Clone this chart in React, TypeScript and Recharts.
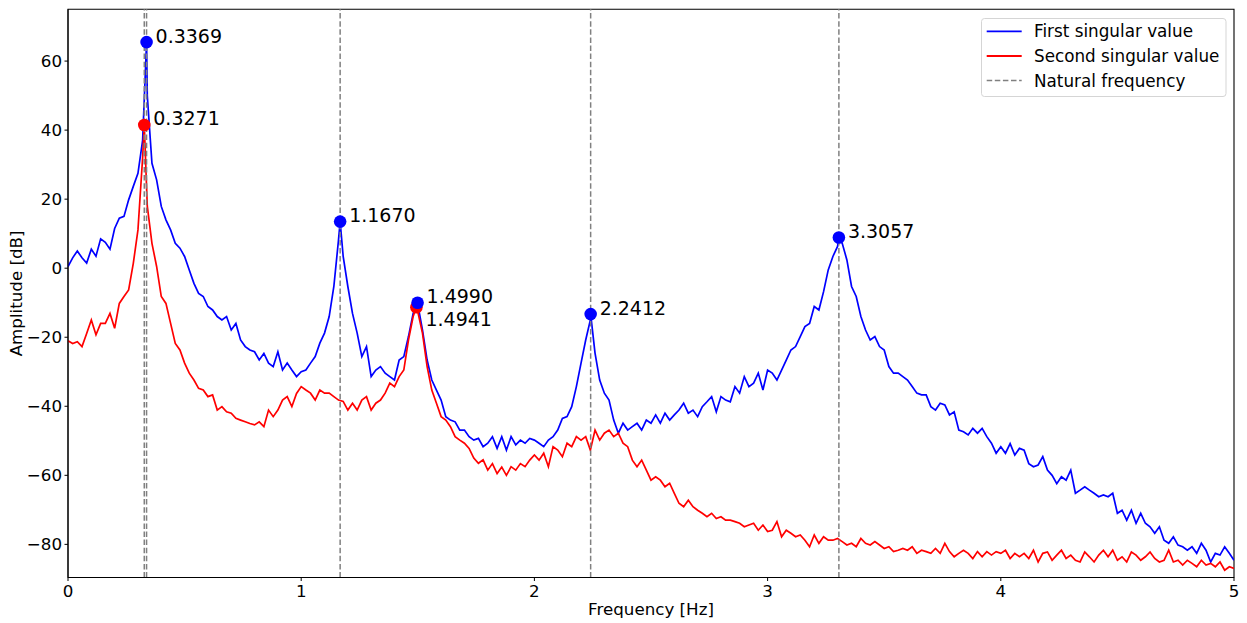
import {
  ComposedChart,
  Legend,
  Line,
  ReferenceArea,
  ReferenceLine,
  Scatter,
  XAxis,
  YAxis,
} from "recharts";

// amplitude of the first singular value [dB], sampled every 0.02 Hz from 0 to 5 Hz
const FIRST_SV = [
  0.5, 3.0, 5.0, 3.0, 1.5, 5.5, 3.5, 8.5, 7.5, 5.5, // 0.00-0.18
  11.5, 14.5, 15, 19.8, 23.7, 27.5, 37, 50, 30.4, 25.6, // 0.20-0.38
  17.9, 14, 11.1, 7.2, 5.8, 3.4, -0.5, -4.4, -7.3, -8.2, // 0.40-0.58
  -11.1, -12.1, -14.0, -15, -14, -17.9, -16, -20.8, -22.7, -23.7, // 0.60-0.78
  -24.2, -26.6, -24.7, -27.5, -28.5, -24.2, -29.5, -27.5, -29.5, -31.4, // 0.80-0.98
  -30, -29.5, -27.5, -25.6, -21.7, -18.8, -14, -5.3, 8.2, 3.4, // 1.00-1.18
  -5.3, -13.1, -18.8, -25.6, -22.7, -31.4, -29.5, -28.5, -30.4, -31.4, // 1.20-1.38
  -32.4, -26.6, -25.6, -19.8, -13.1, -10.5, -17.9, -26.6, -32.4, -35.3, // 1.40-1.58
  -38.2, -43, -44, -44.5, -46.9, -46.9, -48.8, -49.8, -49.3, -51.7, // 1.60-1.78
  -50.7, -48.8, -52.2, -48.8, -52.7, -48.8, -51.2, -49.8, -50.7, -49.3, // 1.80-1.98
  -49.8, -50.7, -51.7, -49.8, -48.8, -46.9, -43.5, -43, -40.1, -34.3, // 2.00-2.18
  -27.5, -20.8, -15, -24.6, -32.4, -36.2, -38.2, -44, -47.8, -44.9, // 2.20-2.38
  -46.9, -45.9, -44.9, -46.9, -44, -44.9, -42.5, -44.9, -42, -44, // 2.40-2.58
  -42.5, -41.1, -39.1, -42, -41.1, -43, -40.1, -38.7, -37.2, -41.6, // 2.60-2.78
  -37.2, -38.2, -38.7, -34.3, -36.2, -31.4, -34.3, -33.3, -30.4, -35.3, // 2.80-2.98
  -29.5, -30.4, -32.4, -29.5, -26.6, -23.7, -22.7, -19.8, -16.9, -16, // 3.00-3.18
  -11.1, -12.1, -6.8, -0.5, 3.4, 6.3, 7.2, 2.4, -5.3, -8.2, // 3.20-3.38
  -14, -17.9, -20.8, -19.8, -22.7, -23.7, -28.5, -30.4, -30.4, -31.4, // 3.40-3.58
  -32.4, -34.3, -36.2, -36.7, -36.7, -40.1, -41.1, -39.1, -39.6, -42.5, // 3.60-3.78
  -41.6, -46.9, -47.4, -48.3, -46.4, -47.8, -46.4, -48.8, -50.7, -53.6, // 3.80-3.98
  -51.7, -53.6, -50.8, -54.1, -52.2, -52.7, -56.6, -57.5, -57, -54.6, // 4.00-4.18
  -58.5, -60, -62.4, -60.4, -61.4, -58.5, -65.2, -64.3, -63.3, -64.3, // 4.20-4.38
  -65.2, -66.2, -65.7, -66.2, -65.2, -71, -70.1, -73, -70.1, -73.9, // 4.40-4.58
  -71, -73.9, -74.9, -76.8, -74.9, -78.8, -79.7, -77.8, -80.2, -80.7, // 4.60-4.78
  -81.7, -80.7, -82.6, -79.7, -81.7, -85.1, -82.6, -83.1, -80.7, -82.6, // 4.80-4.98
  -84.6, // 5.00
];

// amplitude of the second singular value [dB], same frequency grid
const SECOND_SV = [
  -21, -21.8, -21.3, -22.7, -18.9, -15, -19.3, -16, -16, -13.1, // 0.00-0.18
  -17.4, -10.2, -8.2, -6.3, 1.4, 11.1, 32, 18, 7.2, 0.5, // 0.20-0.38
  -8.2, -10.2, -16, -21.8, -23.7, -27.5, -30.4, -32.4, -34.8, -35.3, // 0.40-0.58
  -37.2, -36.7, -41.1, -40.1, -41.6, -42.0, -43.5, -44.0, -44.5, -45, // 0.60-0.78
  -45.4, -44.5, -45.9, -41.1, -43, -41.1, -38.2, -37.2, -40.1, -36.3, // 0.80-0.98
  -34.3, -35.3, -36.2, -38.2, -35.3, -36.2, -36.2, -37.2, -38.2, -38.6, // 1.00-1.18
  -41.1, -39.1, -41.1, -38.2, -37.2, -41.1, -39.1, -38.2, -36.2, -33.3, // 1.20-1.38
  -34.3, -31.4, -29.5, -20.8, -14, -12.6, -18.8, -28.5, -35.3, -39.1, // 1.40-1.58
  -43, -44, -45.9, -48.8, -49.8, -50.7, -52.2, -55, -56.5, -55.5, // 1.60-1.78
  -58.5, -56.6, -59.5, -57.6, -60, -57.5, -58.5, -56.6, -57.5, -55.6, // 1.80-1.98
  -54.1, -55.6, -53.6, -57.5, -51.7, -52.7, -54.6, -50.7, -51.7, -48.8, // 2.00-2.18
  -49.8, -48.8, -52.7, -46.9, -49.8, -47.8, -46.9, -48.8, -47.8, -50.7, // 2.20-2.38
  -51.7, -55.6, -57.5, -55.6, -58.5, -61.4, -60.4, -61.4, -63.3, -62.3, // 2.40-2.58
  -65.2, -68.1, -69.1, -67.2, -69.1, -70.1, -71, -72, -71, -72.5, // 2.60-2.78
  -72, -73, -73, -73.4, -73.9, -74.9, -74.4, -73.9, -75.9, -74.4, // 2.80-2.98
  -76.3, -75.9, -73.4, -77.8, -75.9, -76.8, -77.8, -77.3, -78.8, -80.7, // 3.00-3.18
  -77.3, -79.7, -77.8, -78.8, -78.8, -78.3, -79.2, -80.2, -79.7, -80.7, // 3.20-3.38
  -78.3, -79.7, -80.2, -79.2, -80.2, -81.2, -80.7, -82.1, -81.7, -81.2, // 3.40-3.58
  -81.7, -80.7, -82.6, -81.7, -82.1, -82.6, -81.2, -82.6, -79.7, -82.1, // 3.60-3.78
  -83.6, -82.6, -81.7, -82.6, -84.1, -82.1, -83.6, -82.1, -83.1, -82.1, // 3.80-3.98
  -82.6, -81.7, -84.1, -82.6, -83.6, -82.6, -84.1, -81.7, -85.1, -82.6, // 4.00-4.18
  -82.2, -84.6, -83.1, -81.7, -84.1, -83.1, -84.6, -85.1, -82.2, -83.6, // 4.20-4.38
  -85.1, -83.1, -81.7, -83.6, -81.7, -84.6, -83.6, -85.1, -82.2, -83.1, // 4.40-4.58
  -84.6, -83.6, -82.2, -84.1, -85.1, -84.6, -81.7, -85.1, -84.6, -86, // 4.60-4.78
  -84.6, -85.5, -86.5, -84.6, -86, -85.5, -86.5, -85.1, -87.5, -86.5, // 4.80-4.98
  -87, // 5.00
];

const FREQ_STEP = 0.02;
const FREQS = FIRST_SV.map((_, i) => Math.round(i * FREQ_STEP * 100) / 100);

// picked peaks (frequency in Hz, amplitude in dB)
const FIRST_PEAK_FREQS = [0.3369, 1.167, 1.499, 2.2412, 3.3057];
const FIRST_PEAK_DB = [65.5, 13.5, -10.0, -13.3, 8.9];
const SECOND_PEAK_FREQS = [0.3271, 1.4941];
const SECOND_PEAK_DB = [41.5, -11.3];

const NATURAL_FREQS = [0.3271, 0.3369, 1.167, 2.2412, 3.3057];

const X_TICKS = [0, 1, 2, 3, 4, 5];
const Y_TICKS = [-80, -60, -40, -20, 0, 20, 40, 60];
const Y_DOMAIN: [number, number] = [-89.6, 75];

const BLUE = "#0000ff";
const RED = "#ff0000";
const GRAY = "#808080";
const FONT = "'DejaVu Sans', 'Liberation Sans', sans-serif";
const AXIS_FONT = 16.7;

type Point = { f: number; db: number };

function peakPoints(freqs: number[], dbs: number[]): Point[] {
  return freqs.map((f, i) => ({ f, db: dbs[i] }));
}

function curve(values: number[], peaks: Point[]): Point[] {
  const pts = values.map((db, i) => ({ f: FREQS[i], db }));
  return [...pts, ...peaks].sort((a, b) => a.f - b.f);
}

const firstPeaks = peakPoints(FIRST_PEAK_FREQS, FIRST_PEAK_DB);
const secondPeaks = peakPoints(SECOND_PEAK_FREQS, SECOND_PEAK_DB);
const firstCurve = curve(FIRST_SV, firstPeaks);
const secondCurve = curve(SECOND_SV, secondPeaks);

// 1.4941 sits right under 1.4990, so its label goes below the marker
const LABEL_BELOW = new Set([1.4941]);

const fmtTick = (v: number) => (v < 0 ? `\u2212${Math.abs(v)}` : `${v}`);

function makePeakShape(color: string) {
  return (props: any) => {
    const { cx, cy, payload } = props;
    if (cx == null || cy == null) return <g />;
    const below = LABEL_BELOW.has(payload.f);
    return (
      <g>
        <circle cx={cx} cy={cy} r={6.3} fill={color} />
        <text
          x={cx + 9}
          y={below ? cy + 18.5 : cy + 0.5}
          fontSize={19}
          fontFamily={FONT}
          fill="#000"
        >
          {payload.f.toFixed(4)}
        </text>
      </g>
    );
  };
}

function LegendBox() {
  const rows = [
    { label: "First singular value", color: BLUE, dash: undefined },
    { label: "Second singular value", color: RED, dash: undefined },
    { label: "Natural frequency", color: GRAY, dash: "5.5 2.6" },
  ];
  return (
    <svg width={246} height={80} style={{ display: "block" }}>
      <rect
        x={0.5}
        y={0.5}
        width={244.5}
        height={78}
        rx={3}
        fill="#fff"
        fillOpacity={0.8}
        stroke="#d5d5d5"
      />
      {rows.map((r, i) => {
        const y = 13.4 + i * 24.6;
        return (
          <g key={r.label}>
            <line
              x1={5.7}
              x2={40.7}
              y1={y}
              y2={y}
              stroke={r.color}
              strokeWidth={r.dash ? 1.5 : 1.8}
              strokeDasharray={r.dash}
            />
            <text x={53} y={y + 6} fontSize={16.8} fontFamily={FONT} fill="#000">
              {r.label}
            </text>
          </g>
        );
      })}
    </svg>
  );
}

export default function App() {
  return (
    <div
      style={{
        position: "absolute",
        left: 0,
        top: 0,
        width: 1247,
        height: 623,
        background: "#fff",
        fontFamily: FONT,
      }}
    >
      <ComposedChart
        width={1247}
        height={623}
        margin={{ top: 9.3, right: 13, bottom: 0, left: 0 }}
      >
        <XAxis
          type="number"
          dataKey="f"
          domain={[0, 5]}
          ticks={X_TICKS}
          allowDataOverflow
          height={45.5}
          tickSize={3.5}
          tickMargin={4}
          stroke="#000"
          tick={{ fill: "#000", fontSize: AXIS_FONT, fontFamily: FONT }}
          label={{
            content: (p: any) => {
              const vb = p.viewBox;
              return (
                <text
                  x={vb.x + vb.width / 2}
                  y={614.5}
                  textAnchor="middle"
                  fontSize={AXIS_FONT}
                  fontFamily={FONT}
                  fill="#000"
                >
                  Frequency [Hz]
                </text>
              );
            },
          }}
        />
        <YAxis
          type="number"
          dataKey="db"
          domain={Y_DOMAIN}
          ticks={Y_TICKS}
          allowDataOverflow
          width={68}
          tickSize={3.5}
          tickMargin={2.5}
          stroke="#000"
          tickFormatter={fmtTick}
          tick={{ fill: "#000", fontSize: AXIS_FONT, fontFamily: FONT }}
          label={{
            content: (p: any) => {
              const vb = p.viewBox;
              const cy = vb.y + vb.height / 2;
              return (
                <text
                  x={22}
                  y={cy}
                  transform={`rotate(-90, 22, ${cy})`}
                  textAnchor="middle"
                  fontSize={AXIS_FONT}
                  fontFamily={FONT}
                  fill="#000"
                >
                  Amplitude [dB]
                </text>
              );
            },
          }}
        />

        <Line
          data={firstCurve}
          dataKey="db"
          name="First singular value"
          type="linear"
          stroke={BLUE}
          strokeWidth={1.7}
          dot={false}
          activeDot={false}
          isAnimationActive={false}
        />
        <Line
          data={secondCurve}
          dataKey="db"
          name="Second singular value"
          type="linear"
          stroke={RED}
          strokeWidth={1.7}
          dot={false}
          activeDot={false}
          isAnimationActive={false}
        />

        {NATURAL_FREQS.map((f) => (
          <ReferenceLine
            key={f}
            x={f}
            stroke={GRAY}
            strokeWidth={1.5}
            strokeDasharray="5.5 2.6"
          />
        ))}

        <Scatter
          data={secondPeaks}
          dataKey="db"
          shape={makePeakShape(RED)}
          isAnimationActive={false}
        />
        <Scatter
          data={firstPeaks}
          dataKey="db"
          shape={makePeakShape(BLUE)}
          isAnimationActive={false}
        />

        <ReferenceArea
          x1={0}
          x2={5}
          y1={Y_DOMAIN[0]}
          y2={Y_DOMAIN[1]}
          fill="none"
          fillOpacity={0}
          stroke="#000"
          strokeWidth={1.1}
        />

        <Legend
          layout="horizontal"
          verticalAlign="middle"
          align="center"
          wrapperStyle={{ left: 981, top: 18, width: 246, height: 80 }}
          content={() => <LegendBox />}
        />
      </ComposedChart>
    </div>
  );
}
